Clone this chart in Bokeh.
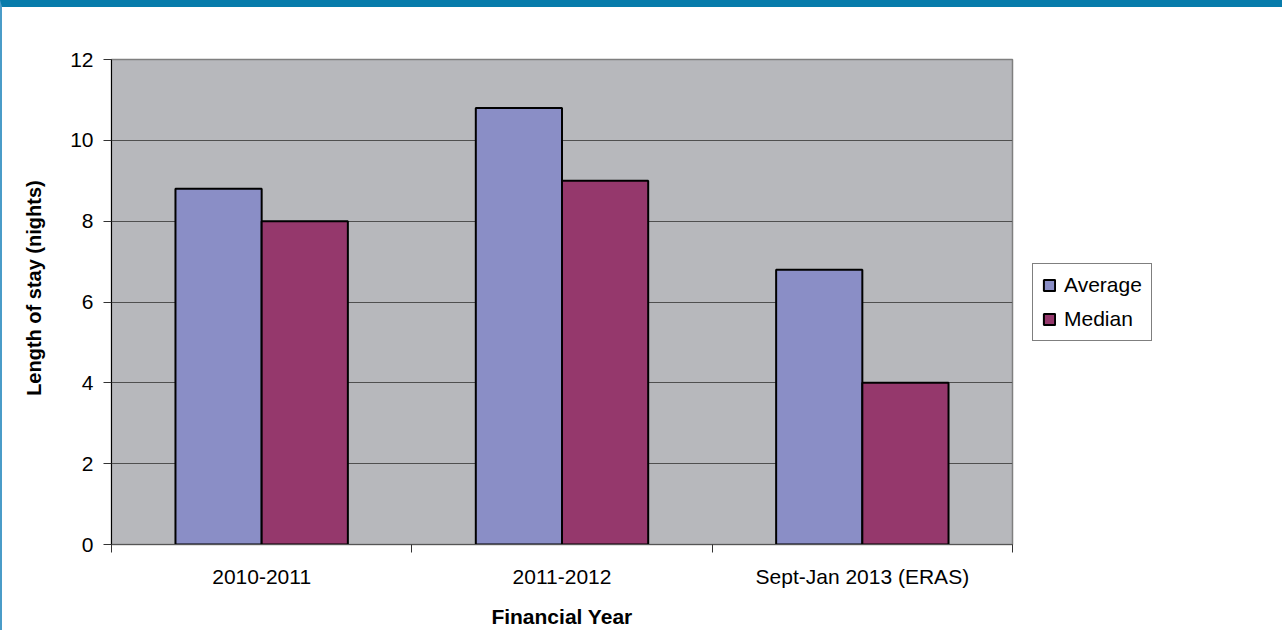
from bokeh.plotting import figure
from bokeh.models import (ColumnDataSource, Range1d, FixedTicker, Legend, LegendItem)
from bokeh.transform import dodge
from bokeh.embed import file_html
from bokeh.resources import INLINE

categories = ["2010-2011", "2011-2012", "Sept-Jan 2013 (ERAS)"]
average = [8.8, 10.8, 6.8]
median = [8.0, 9.0, 4.0]
y_ticks = [0, 2, 4, 6, 8, 10, 12]

FONT = "Liberation Sans"

xc = [i + 0.5 for i in range(len(categories))]
src = ColumnDataSource(dict(xc=xc, average=average, median=median, cat=categories))

p = figure(frame_width=901, frame_height=485, output_backend="svg", toolbar_location=None,
           x_range=Range1d(0, len(categories)), y_range=Range1d(0, 12),
           min_border_left=109, min_border_right=252, min_border_top=52, min_border_bottom=82)
p.styles = {"border-top": "7px solid #077cab", "border-left": "2px solid #4a9cc8"}

p.background_fill_color = "#b7b8bc"
p.border_fill_color = "white"
p.outline_line_color = "#7f7f7f"
p.outline_line_width = 1.5

bw = 0.287
r1 = p.vbar(x=dodge("xc", -bw / 2), top="average", width=bw, source=src,
            fill_color="#8a8ec6", line_color="black", line_width=2)
r2 = p.vbar(x=dodge("xc", bw / 2), top="median", width=bw, source=src,
            fill_color="#95386c", line_color="black", line_width=2)

# grid
p.xgrid.grid_line_color = None
p.ygrid.ticker = FixedTicker(ticks=y_ticks)
p.ygrid.grid_line_color = "#4f4f4f"
p.ygrid.grid_line_width = 1

# y axis
ya = p.yaxis[0]
ya.ticker = FixedTicker(ticks=y_ticks)
ya.axis_line_color = "black"
ya.major_tick_out = 8
ya.major_tick_in = 0
ya.major_tick_line_color = "#333333"
ya.minor_tick_line_color = None
ya.major_label_standoff = 10
ya.major_label_text_font = FONT
ya.major_label_text_font_size = "21px"
ya.major_label_text_color = "black"
ya.axis_label = "\u00a0" * 5 + "Length of stay (nights)"
ya.axis_label_text_font = FONT
ya.axis_label_text_font_style = "bold"
ya.axis_label_text_font_size = "20px"
ya.axis_label_text_color = "black"
ya.axis_label_standoff = 22

# x axis
xa = p.xaxis[0]
xa.ticker = FixedTicker(ticks=xc, minor_ticks=list(range(len(categories) + 1)))
xa.major_label_overrides = {x: c for x, c in zip(xc, categories)}
xa.axis_line_color = "#555555"
xa.major_tick_out = 0
xa.major_tick_in = 0
xa.major_tick_line_color = None
xa.minor_tick_out = 8
xa.minor_tick_in = 0
xa.minor_tick_line_color = "#333333"
xa.major_label_standoff = 12
xa.major_label_text_font = FONT
xa.major_label_text_font_size = "21px"
xa.major_label_text_color = "black"
xa.axis_label = "Financial Year"
xa.axis_label_text_font = FONT
xa.axis_label_text_font_style = "bold"
xa.axis_label_text_font_size = "21px"
xa.axis_label_text_color = "black"
xa.axis_label_standoff = 14

legend = Legend(items=[LegendItem(label="Average", renderers=[r1]),
                       LegendItem(label="Median", renderers=[r2])],
                location="left")
legend.border_line_color = "black"
legend.border_line_width = 1
legend.background_fill_color = "white"
legend.background_fill_alpha = 1
legend.label_text_font = FONT
legend.label_text_font_size = "21px"
legend.label_text_color = "black"
legend.glyph_width = 14
legend.glyph_height = 14
legend.label_height = 24
legend.spacing = 10
legend.padding = 9
legend.margin = 20
legend.label_standoff = 8
legend.item_background_fill_alpha = 0
p.add_layout(legend, "right")

open("out.html", "w").write(file_html(p, INLINE))
